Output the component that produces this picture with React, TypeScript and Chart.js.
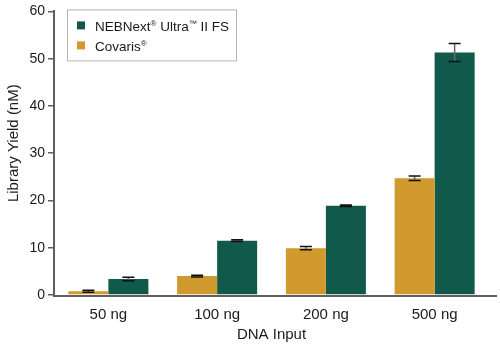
import { useEffect, useRef } from "react";
import { Chart, registerables } from "chart.js";

Chart.register(...registerables);

const categories = ["50 ng", "100 ng", "200 ng", "500 ng"];
const covarisLabel = "Covaris®";
const covarisValues = [0.8, 4.0, 9.9, 24.7];
const covarisErrors = [0.2, 0.2, 0.35, 0.5];
const nebLabel = "NEBNext® Ultra™ II FS";
const nebValues = [3.4, 11.5, 18.9, 51.3];
const nebErrors = [0.38, 0.2, 0.15, 1.9];
const yTickValues = [0, 10, 20, 30, 40, 50, 60];
const yTitle = "Library Yield (nM)";
const xTitle = "DNA Input";

const covarisColor = "#D09A2E";
const nebColor = "#115A4B";
const FONT = "'Liberation Sans', Arial, Helvetica, sans-serif";
const TEXT = "#1a1a1a";
const AXIS = "#5f5f5f";

const errorBarPlugin = {
  id: "errorBars",
  afterDatasetsDraw(chart: any) {
    const ctx = chart.ctx;
    const yScale = chart.scales.y;
    chart.data.datasets.forEach((ds: any, i: number) => {
      const meta = chart.getDatasetMeta(i);
      meta.data.forEach((el: any, j: number) => {
        const v = ds.data[j];
        const e = ds.errors[j];
        const x = el.x;
        const yTop = yScale.getPixelForValue(v + e);
        const yBot = yScale.getPixelForValue(v - e);
        ctx.save();
        ctx.strokeStyle = "#666";
        ctx.lineWidth = 1.5;
        ctx.beginPath();
        ctx.moveTo(x, yTop);
        ctx.lineTo(x, yBot);
        ctx.stroke();
        ctx.strokeStyle = "#111";
        ctx.beginPath();
        ctx.moveTo(x - 6, yTop);
        ctx.lineTo(x + 6, yTop);
        ctx.moveTo(x - 6, yBot);
        ctx.lineTo(x + 6, yBot);
        ctx.stroke();
        ctx.restore();
      });
    });
  },
};

const axesPlugin = {
  id: "axesLines",
  afterDatasetsDraw(chart: any) {
    const { ctx, chartArea } = chart;
    ctx.save();
    ctx.strokeStyle = AXIS;
    ctx.lineWidth = 2;
    ctx.beginPath();
    ctx.moveTo(chartArea.left - 1, chartArea.bottom + 1);
    ctx.lineTo(chartArea.right + 8, chartArea.bottom + 1);
    ctx.stroke();
    ctx.restore();
  },
  afterDraw(chart: any) {
    const { ctx, chartArea } = chart;
    ctx.save();
    ctx.fillStyle = TEXT;
    ctx.font = `15px ${FONT}`;
    ctx.textAlign = "center";
    ctx.textBaseline = "middle";
    ctx.translate(14, (chartArea.top + chartArea.bottom) / 2 - 10);
    ctx.rotate(-Math.PI / 2);
    ctx.fillText(yTitle, 0, 0);
    ctx.restore();
  },
};

function drawRichText(ctx: CanvasRenderingContext2D, text: string, x: number, y: number, size: number) {
  let cx = x;
  for (const ch of Array.from(text)) {
    if (ch === "®" || ch === "™") {
      ctx.font = `${Math.round(size * 0.6)}px ${FONT}`;
      ctx.fillText(ch, cx, y - size * 0.4);
      cx += ctx.measureText(ch).width;
    } else {
      ctx.font = `${size}px ${FONT}`;
      ctx.fillText(ch, cx, y);
      cx += ctx.measureText(ch).width;
    }
  }
}

const legendPlugin = {
  id: "insideLegend",
  afterDraw(chart: any) {
    const { ctx, chartArea } = chart;
    const left = chartArea.left + 13;
    const top = chartArea.top - 2;
    ctx.save();
    ctx.strokeStyle = "#b5b5b5";
    ctx.lineWidth = 1;
    ctx.strokeRect(left + 0.5, top + 0.5, 169, 51);
    const items = [...chart.data.datasets].reverse();
    items.forEach((ds: any, i: number) => {
      const rowY = top + 17 + i * 20;
      ctx.fillStyle = ds.backgroundColor;
      ctx.fillRect(left + 10, rowY - 5, 8, 8);
      ctx.fillStyle = TEXT;
      ctx.textBaseline = "alphabetic";
      drawRichText(ctx, ds.label, left + 28, rowY + 5, 13.5);
    });
    ctx.restore();
  },
};

export default function App() {
  const canvasRef = useRef<HTMLCanvasElement | null>(null);

  useEffect(() => {
    if (!canvasRef.current) return;
    const chart = new Chart(canvasRef.current, {
      type: "bar",
      data: {
        labels: categories,
        datasets: [
          {
            label: covarisLabel,
            data: covarisValues,
            errors: covarisErrors,
            backgroundColor: covarisColor,
            categoryPercentage: 0.736,
            barPercentage: 1,
          } as any,
          {
            label: nebLabel,
            data: nebValues,
            errors: nebErrors,
            backgroundColor: nebColor,
            categoryPercentage: 0.736,
            barPercentage: 1,
          } as any,
        ],
      },
      options: {
        responsive: false,
        animation: false,
        layout: { padding: { top: 9, right: 11, left: 0, bottom: 0 } },
        plugins: {
          legend: { display: false },
          tooltip: { enabled: false },
        },
        scales: {
          x: {
            grid: { display: false },
            border: { display: false },
            ticks: {
              color: TEXT,
              font: { family: FONT, size: 15 },
              padding: 3,
            },
            title: {
              display: true,
              text: xTitle,
              color: TEXT,
              font: { family: FONT, size: 15 },
              padding: { top: 0, bottom: 6 },
            },
            afterFit(scale: any) {
              scale.height = 55;
            },
          },
          y: {
            min: 0,
            max: 60,
            afterBuildTicks(scale: any) {
              scale.ticks = yTickValues.map((v) => ({ value: v }));
            },
            grid: {
              drawOnChartArea: false,
              drawTicks: true,
              tickLength: 6,
              color: AXIS,
              lineWidth: 1.5,
            },
            border: { display: true, color: AXIS, width: 2 },
            ticks: {
              color: TEXT,
              font: { family: FONT, size: 14 },
              padding: 3,
            },
            title: { display: false },
            afterFit(scale: any) {
              scale.width = 54;
            },
          },
        },
      },
      plugins: [errorBarPlugin, axesPlugin, legendPlugin],
    });
    return () => chart.destroy();
  }, []);

  return (
    <div style={{ position: "fixed", left: 0, top: 0, width: 500, height: 350, background: "#fff" }}>
      <canvas ref={canvasRef} width={500} height={350} />
    </div>
  );
}
